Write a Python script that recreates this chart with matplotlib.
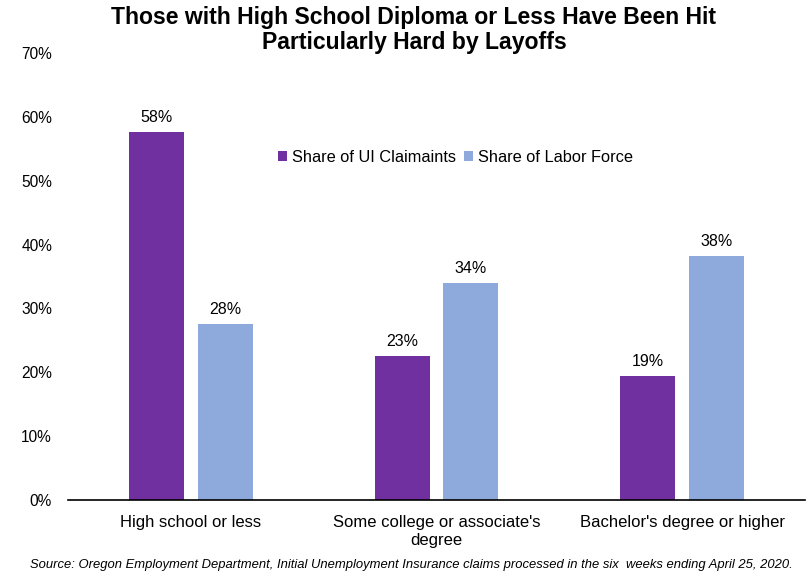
import matplotlib
matplotlib.use("Agg")
import matplotlib.pyplot as plt
import numpy as np

plt.rcParams['font.family'] = ['Liberation Sans', 'DejaVu Sans']

categories = ["High school or less", "Some college or associate's\ndegree", "Bachelor's degree or higher"]
ui_claimants = [57.7, 22.6, 19.4]
labor_force = [27.6, 34.0, 38.2]
series_names = ["Share of UI Claimaints", "Share of Labor Force"]
yticks = [0, 10, 20, 30, 40, 50, 60, 70]

fig = plt.figure(figsize=(8.1, 5.76), dpi=100)
ax = fig.add_axes([68/810, 1-500/576, (805-68)/810, (500-53)/576])

x = np.arange(len(categories))
w = 0.224
off = 0.14
b1 = ax.bar(x - off, ui_claimants, w, color="#7030A0", label=series_names[0])
b2 = ax.bar(x + off, labor_force, w, color="#8EA9DB", label=series_names[1])
for bars, vals in ((b1, ui_claimants), (b2, labor_force)):
    for r, v in zip(bars, vals):
        ax.text(r.get_x() + r.get_width()/2, v + 1.1, f"{round(v):.0f}%", ha="center", va="bottom", fontsize=11.5, color="#000000")

ax.set_xlim(-0.5, 2.5)
ax.set_ylim(0, 70)
ax.set_yticks(yticks)
ax.set_yticklabels([f"{t}%" for t in yticks], fontsize=11.2)
ax.set_xticks(x)
ax.set_xticklabels(categories, fontsize=12)
ax.tick_params(axis='y', length=0, pad=11.5)
ax.tick_params(axis='x', length=0, pad=11)
for s in ("top", "right", "left"):
    ax.spines[s].set_visible(False)
ax.spines["bottom"].set_color("#000000")
ax.spines["bottom"].set_linewidth(1.2)

ax.legend(loc="center", bbox_to_anchor=(0.526, 0.767), ncol=2, frameon=False, fontsize=11.8,
          handlelength=0.55, handleheight=0.55, handletextpad=0.3, columnspacing=0.5)

fig.text(414/810, 1-30/576, "Those with High School Diploma or Less Have Been Hit\nParticularly Hard by Layoffs",
         ha="center", va="center", fontsize=16.6,
         fontweight="bold", linespacing=1.12)
fig.text(30/810, 1-565/576, "Source: Oregon Employment Department, Initial Unemployment Insurance claims processed in the six  weeks ending April 25, 2020.",
         ha="left", va="center", fontsize=9.4, style="italic")

fig.savefig("out.png", dpi=100)
